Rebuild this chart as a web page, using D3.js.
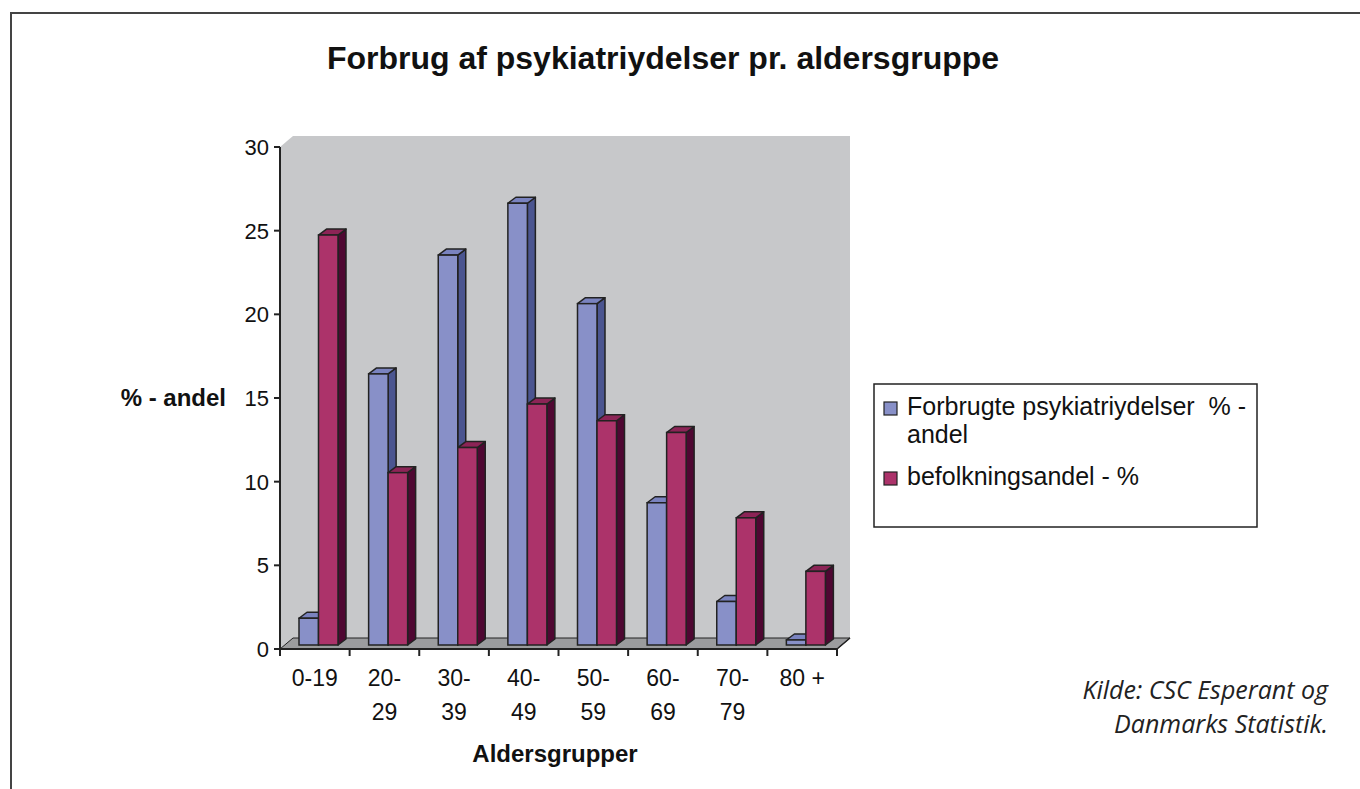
<!DOCTYPE html>
<html>
<head>
<meta charset="utf-8">
<script src="https://cdn.jsdelivr.net/npm/d3@7"></script>
<style>
  body { margin: 0; background: #fff; }
  svg { display: block; }
</style>
</head>
<body>
<script>
// chart data
var categories = ["0-19", "20-29", "30-39", "40-49", "50-59", "60-69", "70-79", "80 +"];
var tickLines = [["0-19"], ["20-", "29"], ["30-", "39"], ["40-", "49"], ["50-", "59"], ["60-", "69"], ["70-", "79"], ["80 +"]];
var forbrug = [1.6, 16.2, 23.3, 26.4, 20.4, 8.5, 2.6, 0.3];
var befolkning = [24.5, 10.3, 11.8, 14.4, 13.4, 12.7, 7.6, 4.4];
var yTicks = [0, 5, 10, 15, 20, 25, 30];
var seriesNames = ["Forbrugte psykiatriydelser  % -", "befolkningsandel - %"];

var svg = d3.select("body").append("svg")
  .attr("width", 1360)
  .attr("height", 789);

var font = "Liberation Sans, Arial, sans-serif";

// outer frame (right and bottom run off the page)
svg.append("path")
  .attr("d", "M11,789 L11,13 L1360,13")
  .attr("fill", "none")
  .attr("stroke", "#444")
  .attr("stroke-width", 2);

var x = d3.scaleBand().domain(categories).range([280, 837]);
var y = d3.scaleLinear().domain([0, 30]).range([649, 147]);

var wallDx = 13, wallDy = -11;
var barDx = 8, barDy = -6;
var bw = 19.5;

// walls
var x0 = 280, x1 = 837, yTop = y(30), yBot = y(0);
svg.append("polygon")
  .attr("points", [[x0, yTop], [x0 + wallDx, yTop + wallDy], [x1 + wallDx, yTop + wallDy],
                   [x1 + wallDx, yBot + wallDy], [x0, yBot]].join(" "))
  .attr("fill", "#c7c8ca");
svg.append("polygon")
  .attr("points", [[x0, yBot], [x0 + wallDx, yBot + wallDy], [x1 + wallDx, yBot + wallDy], [x1, yBot]].join(" "))
  .attr("fill", "#9b9c9e")
  .attr("stroke", "#222")
  .attr("stroke-width", 1);

// bars
function drawBar(g, left, v, cFront, cSide, cTop) {
  var base = y(0) - 4, top = y(v) - 4;
  g.append("polygon")
    .attr("points", [[left + bw, base], [left + bw + barDx, base + barDy], [left + bw + barDx, top + barDy], [left + bw, top]].join(" "))
    .attr("fill", cSide).attr("stroke", "#222").attr("stroke-width", 1.5).attr("stroke-linejoin", "round");
  g.append("polygon")
    .attr("points", [[left, top], [left + barDx, top + barDy], [left + bw + barDx, top + barDy], [left + bw, top]].join(" "))
    .attr("fill", cTop).attr("stroke", "#222").attr("stroke-width", 1.5).attr("stroke-linejoin", "round");
  g.append("rect")
    .attr("x", left).attr("y", top)
    .attr("width", bw).attr("height", base - top)
    .attr("fill", cFront).attr("stroke", "#222").attr("stroke-width", 1.5);
}

var bars = svg.append("g");
categories.forEach(function(c, i) {
  var left = x(c) + 19;
  drawBar(bars, left, forbrug[i], "#8890c8", "#4b5590", "#7a83bf");
  drawBar(bars, left + bw, befolkning[i], "#ac336a", "#4f0732", "#8c2456");
});

// y axis
svg.append("line")
  .attr("x1", x0).attr("x2", x0).attr("y1", yTop).attr("y2", yBot)
  .attr("stroke", "#222").attr("stroke-width", 2);
svg.selectAll(".ytick").data(yTicks).enter().append("line")
  .attr("x1", x0 - 6).attr("x2", x0)
  .attr("y1", function(d) { return y(d); }).attr("y2", function(d) { return y(d); })
  .attr("stroke", "#222").attr("stroke-width", 2);
svg.selectAll(".ylab").data(yTicks).enter().append("text")
  .attr("x", x0 - 11).attr("y", function(d) { return y(d) + 8; })
  .attr("text-anchor", "end")
  .style("font-family", font).style("font-size", "22px").style("fill", "#111")
  .text(function(d) { return d; });

// x axis
svg.append("line")
  .attr("x1", x0).attr("x2", x1).attr("y1", yBot).attr("y2", yBot)
  .attr("stroke", "#222").attr("stroke-width", 2);
svg.append("line")
  .attr("x1", x1).attr("x2", x1 + wallDx).attr("y1", yBot).attr("y2", yBot + wallDy)
  .attr("stroke", "#222").attr("stroke-width", 1.5);
svg.selectAll(".xtick").data(categories.concat(["end"])).enter().append("line")
  .attr("x1", function(d, i) { return x0 + i * x.bandwidth(); })
  .attr("x2", function(d, i) { return x0 + i * x.bandwidth(); })
  .attr("y1", yBot).attr("y2", yBot + 7)
  .attr("stroke", "#222").attr("stroke-width", 2);
var xl = svg.selectAll(".xlab").data(categories).enter().append("text")
  .attr("text-anchor", "middle")
  .style("font-family", font).style("font-size", "23px").style("fill", "#111");
xl.each(function(d, i) {
  var t = d3.select(this);
  tickLines[i].forEach(function(s, k) {
    t.append("tspan").attr("x", x(d) + x.bandwidth() / 2).attr("y", 686 + k * 34).text(s);
  });
});

// titles
svg.append("text")
  .attr("x", 663).attr("y", 69).attr("text-anchor", "middle")
  .style("font-family", font).style("font-size", "32px").style("font-weight", "bold").style("fill", "#111")
  .text("Forbrug af psykiatriydelser pr. aldersgruppe");
svg.append("text")
  .attr("x", 226).attr("y", 406).attr("text-anchor", "end")
  .style("font-family", font).style("font-size", "24px").style("font-weight", "bold").style("fill", "#111")
  .text("% - andel");
svg.append("text")
  .attr("x", 555).attr("y", 762).attr("text-anchor", "middle")
  .style("font-family", font).style("font-size", "24px").style("font-weight", "bold").style("fill", "#111")
  .text("Aldersgrupper");

// legend
var lg = svg.append("g");
lg.append("rect")
  .attr("x", 874).attr("y", 384).attr("width", 383).attr("height", 143)
  .attr("fill", "#fff").attr("stroke", "#222").attr("stroke-width", 1.5);
var legendColors = ["#8890c8", "#ac336a"];
var legendY = [402, 472];
seriesNames.forEach(function(n, i) {
  lg.append("rect")
    .attr("x", 884).attr("y", legendY[i]).attr("width", 13).attr("height", 13)
    .attr("fill", legendColors[i]).attr("stroke", "#222").attr("stroke-width", 1.2);
  lg.append("text")
    .attr("x", 907).attr("y", legendY[i] + 13)
    .style("font-family", font).style("font-size", "25px").style("fill", "#111")
    .style("white-space", "pre")
    .text(n);
});
lg.append("text")
  .attr("x", 907).attr("y", 443)
  .style("font-family", font).style("font-size", "25px").style("fill", "#111")
  .text("andel");

// source note
var src = svg.append("text")
  .attr("text-anchor", "end")
  .style("font-family", "Open Sans, Noto Sans, sans-serif").style("font-size", "25px").style("font-style", "italic").style("fill", "#222");
src.append("tspan").attr("x", 1328).attr("y", 699).text("Kilde: CSC Esperant og");
src.append("tspan").attr("x", 1328).attr("y", 733).text("Danmarks Statistik.");
</script>
</body>
</html>
